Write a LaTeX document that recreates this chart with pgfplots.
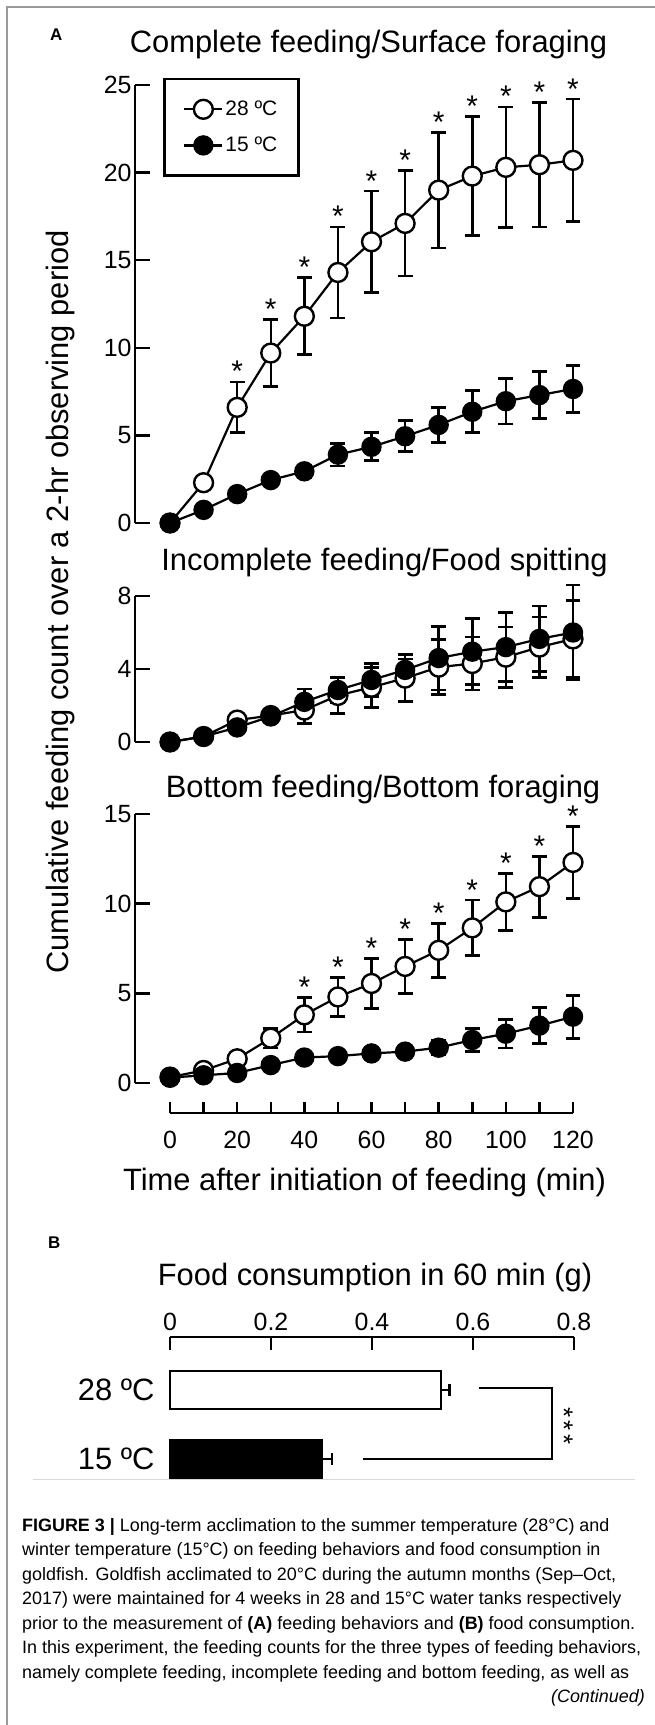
\documentclass[border=0pt]{standalone}
\usepackage{fontspec}
\setmainfont{Liberation Sans}
\setsansfont{Liberation Sans}
\usepackage{pgfplots}
\usepackage{pgfplotstable}
\pgfplotsset{compat=1.18}

\newcommand\fbig{\fontsize{31}{37}\selectfont}
\newcommand\ftick{\fontsize{25}{29}\selectfont}
\newcommand\fleg{\fontsize{21}{25}\selectfont}
\newcommand\fcap{\fontsize{18}{24.5}\selectfont}
\newcommand\fstar{\fontsize{30}{34}\selectfont}

% Panel 1: complete feeding
\pgfplotstableread{
t m e
0 0 0
10 2.3 0
20 6.6 1.45
30 9.7 1.9
40 11.8 2.2
50 14.3 2.6
60 16.05 2.9
70 17.1 3.0
80 19.0 3.3
90 19.8 3.4
100 20.3 3.45
110 20.45 3.55
120 20.7 3.5
}\poneo
\pgfplotstableread{
t m e
0 0 0
10 0.75 0
20 1.65 0
30 2.45 0.2
40 2.95 0.35
50 3.9 0.65
60 4.35 0.8
70 4.95 0.88
80 5.6 1.0
90 6.35 1.2
100 6.95 1.3
110 7.3 1.35
120 7.65 1.35
}\ponef
% Panel 2: incomplete feeding
\pgfplotstableread{
t m e
0 0 0
10 0.3 0
20 1.2 0.25
30 1.45 0.3
40 1.75 0.75
50 2.55 1.0
60 3.0 1.1
70 3.5 1.3
80 4.1 1.5
90 4.3 1.45
100 4.65 1.65
110 5.2 1.65
120 5.65 2.1
}\ptwoo
\pgfplotstableread{
t m e
0 0 0
10 0.3 0
20 0.8 0.2
30 1.4 0.3
40 2.2 0.7
50 2.85 0.7
60 3.4 0.9
70 3.95 0.6
80 4.6 1.75
90 4.95 1.8
100 5.2 1.9
110 5.65 1.8
120 6.0 2.6
}\ptwof
% Panel 3: bottom feeding
\pgfplotstableread{
t m e
0 0.33 0
10 0.7 0
20 1.35 0.2
30 2.5 0.55
40 3.8 0.95
50 4.8 1.1
60 5.55 1.4
70 6.5 1.5
80 7.4 1.5
90 8.65 1.55
100 10.1 1.6
110 10.95 1.7
120 12.3 2.0
}\pthreeo
\pgfplotstableread{
t m e
0 0.3 0
10 0.43 0
20 0.56 0
30 1.0 0.1
40 1.42 0.1
50 1.5 0.1
60 1.65 0.15
70 1.75 0.2
80 1.97 0.4
90 2.4 0.65
100 2.75 0.8
110 3.2 1.0
120 3.7 1.2
}\pthreef

\pgfplotsset{
  /pgf/number format/assume math mode=true,
  panel/.style={
    scale only axis, clip=false,
    xmin=-10.42, xmax=130, width=471.6bp, ymin=0,
    axis x line=none, axis y line=left,
    axis line style={-, line width=2.5bp, black},
    xtick=\empty, tick align=inside, major tick length=15bp,
    ytick style={line width=2.5bp, black},
    yticklabel style={font=\ftick},
    anchor=south west},
  openser/.style={black, line width=2.2bp, mark=*, mark size=9.5pt,
    mark options={fill=white, draw=black, line width=2.4bp, solid},
    error bars/.cd, y dir=both, y explicit,
    error bar style={line width=2.5bp, black},
    error mark options={rotate=90, mark size=7.5pt, line width=2.8bp, black}},
  fillser/.style={black, line width=2.2bp, mark=*, mark size=9.5pt,
    mark options={fill=black, draw=black, line width=1.5bp, solid},
    error bars/.cd, y dir=both, y explicit,
    error bar style={line width=2.5bp, black},
    error mark options={rotate=90, mark size=7.5pt, line width=2.8bp, black}},
  stars/.style={draw=none, mark=none, forget plot, nodes near coords={*},
    every node near coord/.append style={font=\fstar, anchor=base, inner sep=0pt, yshift=0bp}},
}

\begin{document}
\begin{tikzpicture}
\useasboundingbox (0,0) rectangle (655bp,-1725bp);
\draw[black!40, line width=1.2bp] (7bp,-1725bp) -- (7bp,-7bp) -- (655bp,-7bp);

% ---------- Panel 1 ----------
\begin{axis}[panel, at={(135bp,-523bp)}, height=438bp, ymax=25, ytick={0,5,...,25},
  legend style={at={(0.0594,1.016)}, anchor=north west, draw=black, line width=2.5bp,
    font=\fleg, inner xsep=19bp, inner ysep=20bp, row sep=16bp,
    /tikz/every even column/.append style={column sep=6bp}},
  legend cell align=left,
  legend image code/.code={\draw[mark repeat=2,mark phase=2] plot coordinates {(0bp,0bp)(19bp,0bp)(38bp,0bp)};}]
\addplot[openser] table[x=t, y=m, y error=e] {\poneo};
\addlegendentry{28 ºC}
\addplot[fillser] table[x=t, y=m, y error=e] {\ponef};
\addlegendentry{15 ºC}
\addplot[stars, restrict x to domain=20:120] table[x=t, y expr=\thisrow{m}+\thisrow{e}] {\poneo};
\end{axis}

% ---------- Panel 2 ----------
\begin{axis}[panel, at={(135bp,-742bp)}, height=146bp, ymax=8, ytick={0,4,8}]
\addplot[openser] table[x=t, y=m, y error=e] {\ptwoo};
\addplot[fillser] table[x=t, y=m, y error=e] {\ptwof};
\end{axis}

% ---------- Panel 3 ----------
\begin{axis}[panel, at={(135bp,-1083bp)}, height=269bp, ymax=15, ytick={0,5,10,15}]
\addplot[openser] table[x=t, y=m, y error=e] {\pthreeo};
\addplot[fillser] table[x=t, y=m, y error=e] {\pthreef};
\addplot[stars, restrict x to domain=40:120] table[x=t, y expr=\thisrow{m}+\thisrow{e}] {\pthreeo};
\end{axis}

% ---------- shared time axis ----------
\begin{axis}[scale only axis, at={(170bp,-1113bp)}, anchor=south west,
  width=403bp, height=10bp, xmin=0, xmax=120, ymin=0, ymax=1,
  axis x line=bottom, axis y line=none, ytick=\empty,
  axis line style={-, line width=2.5bp, black},
  xtick={0,10,...,120}, xticklabels={0,,20,,40,,60,,80,,100,,120},
  tick align=inside, major tick length=11bp,
  xtick style={line width=2.5bp, black},
  xticklabel style={font=\ftick, anchor=base, yshift=-35bp}]
\addplot[draw=none] coordinates {(0,0)};
\end{axis}

% ---------- Panel B ----------
\begin{axis}[scale only axis, clip=false, at={(170bp,-1337bp)}, anchor=north west,
  width=404bp, height=142.7bp, xmin=0, xmax=0.8, ymin=-0.3, ymax=1.768,
  axis x line=top, axis y line=left,
  x axis line style={-, line width=2.5bp, black},
  y axis line style={draw=none},
  xtick={0,0.2,0.4,0.6,0.8}, xticklabels={0,0.2,0.4,0.6,0.8},
  ytick={0,1}, yticklabels={15 ºC,28 ºC},
  tick align=inside, major tick length=13bp,
  xtick style={line width=2.5bp, black}, ytick style={draw=none},
  xticklabel style={font=\ftick, anchor=base, yshift=7bp},
  yticklabel style={font=\fbig, xshift=-12bp}]
\addplot[xbar, bar shift=0pt, bar width=38bp, fill=white, draw=black, line width=2.5bp,
  error bars/.cd, x dir=plus, x explicit, error bar style={line width=2.5bp},
  error mark options={rotate=90, mark size=6pt, line width=2.5bp}]
  coordinates {(0.537,1) +- (0.016,0)};
\addplot[xbar, bar shift=0pt, bar width=38bp, fill=black, draw=black, line width=2.5bp,
  error bars/.cd, x dir=plus, x explicit, error bar style={line width=2.5bp},
  error mark options={rotate=90, mark size=6pt, line width=2.5bp}]
  coordinates {(0.301,0) +- (0.02,0)};
\draw[line width=2.5bp] (axis cs:0.612,1.03) -| (axis cs:0.756,0) -- (axis cs:0.382,0);
\node[font=\fontsize{26}{30}\selectfont, anchor=base, inner sep=0pt, rotate=-90] at (axis cs:0.762,0.478)
  {*\kern3.9bp*\kern3.9bp*};
\end{axis}

% ---------- Texts ----------
\node[anchor=base west, inner sep=0pt, font=\fontsize{17}{20}\selectfont\bfseries] at (50bp,-40bp) {A};
\node[anchor=base west, inner sep=0pt, font=\fontsize{17}{20}\selectfont\bfseries] at (48bp,-1248bp) {B};
\node[anchor=base, inner sep=0pt, font=\fbig] at (368.5bp,-52bp) {Complete feeding/Surface foraging};
\node[anchor=base, inner sep=0pt, font=\fbig] at (384.5bp,-570bp) {Incomplete feeding/Food spitting};
\node[anchor=base, inner sep=0pt, font=\fbig] at (383bp,-797bp) {Bottom feeding/Bottom foraging};
\node[anchor=base, inner sep=0pt, font=\fbig] at (364.5bp,-1190bp) {Time after initiation of feeding (min)};
\node[anchor=base, inner sep=0pt, font=\fbig, rotate=90] at (68.6bp,-602bp) {Cumulative feeding count over a 2-hr observing period};
\node[anchor=base, inner sep=0pt, font=\fbig] at (375bp,-1285bp) {Food consumption in 60 min (g)};

\draw[black!15, line width=1bp] (33bp,-1479bp) -- (635bp,-1479bp);

% ---------- Caption ----------
\begin{scope}[every node/.style={anchor=base west, inner sep=0pt, font=\fcap}]
\node at (22bp,-1531bp) {\textbf{FIGURE 3 |} Long-term acclimation to the summer temperature (28°C) and};
\node at (22bp,-1555.5bp) {winter temperature (15°C) on feeding behaviors and food consumption in};
\node at (22bp,-1580bp) {goldfish. Goldfish acclimated to 20°C during the autumn months (Sep–Oct,};
\node at (22bp,-1604.5bp) {2017) were maintained for 4 weeks in 28 and 15°C water tanks respectively};
\node at (22bp,-1629bp) {prior to the measurement of \textbf{(A)} feeding behaviors and \textbf{(B)} food consumption.};
\node at (22bp,-1653.5bp) {In this experiment, the feeding counts for the three types of feeding behaviors,};
\node at (22bp,-1678bp) {namely complete feeding, incomplete feeding and bottom feeding, as well as};
\node[anchor=base east] at (645bp,-1702.5bp) {\itshape (Continued)};
\end{scope}
\end{tikzpicture}
\end{document}
